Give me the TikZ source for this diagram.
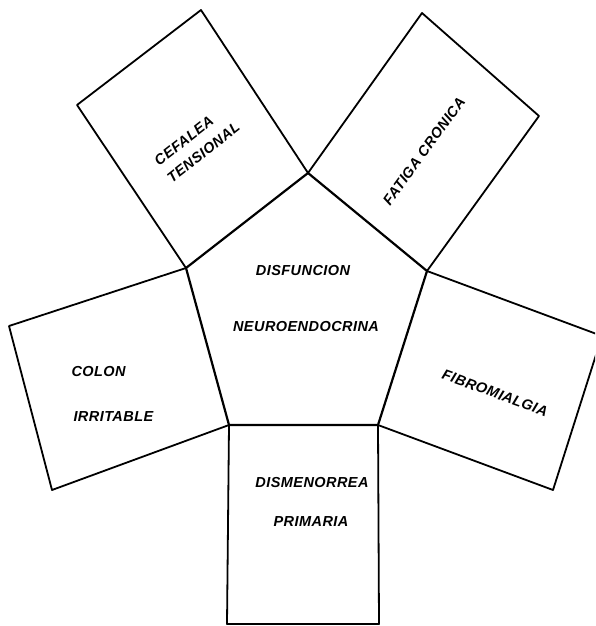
\documentclass[tikz,border=0pt]{standalone}
\usepackage{fontspec}
\setsansfont{Liberation Sans}

\begin{document}
\begin{tikzpicture}[x=1pt,y=-1pt,line join=round,
    caja/.style={line width=1.8pt},
    rotulo/.style={font=\sffamily\bfseries\itshape\fontsize{14.5}{21}\selectfont\addfontfeatures{LetterSpace=3}}]
    \clip (0,0) rectangle (595,626);
    \coordinate (p1) at (308,173);
    \coordinate (p2) at (427,271);
    \coordinate (p3) at (378,425);
    \coordinate (p4) at (229,425);
    \coordinate (p5) at (186,268);
    \draw[caja] (p5) -- (77,105) -- (201,10) -- (p1);
    \draw[caja] (p1) -- (422,13) -- (539,116) -- (p2);
    \draw[caja] (p2) -- (602,336) -- (553,490) -- (p3);
    \draw[caja] (p3) -- (379,624) -- (227,624) -- (p4);
    \draw[caja] (p4) -- (52,490) -- (9,326) -- (p5);
    \draw[line width=2.2pt] (p1) -- (p2) -- (p3) -- (p4) -- (p5) -- cycle;
    \node[rotulo] (disf) at (303,271) {DISFUNCION};
    \node[rotulo] (neuro) at (306,327) {NEUROENDOCRINA};
    \node[rotulo, rotate=38, align=left, inner sep=1pt] (cefalea) at (197,144) {CEFALEA\\TENSIONAL};
    \node[rotulo, rotate=54] (fatiga) at (424,151) {FATIGA CRONICA};
    \node[rotulo, anchor=west] (colon) at (68,372) {COLON};
    \node[rotulo, anchor=west] (irrit) at (70,417) {IRRITABLE};
    \node[rotulo, rotate=-20] (fibro) at (495,393) {FIBROMIALGIA};
    \node[rotulo] (dismen) at (312,483) {DISMENORREA};
    \node[rotulo] (prim) at (311,522) {PRIMARIA};
  \end{tikzpicture}
\end{document}
